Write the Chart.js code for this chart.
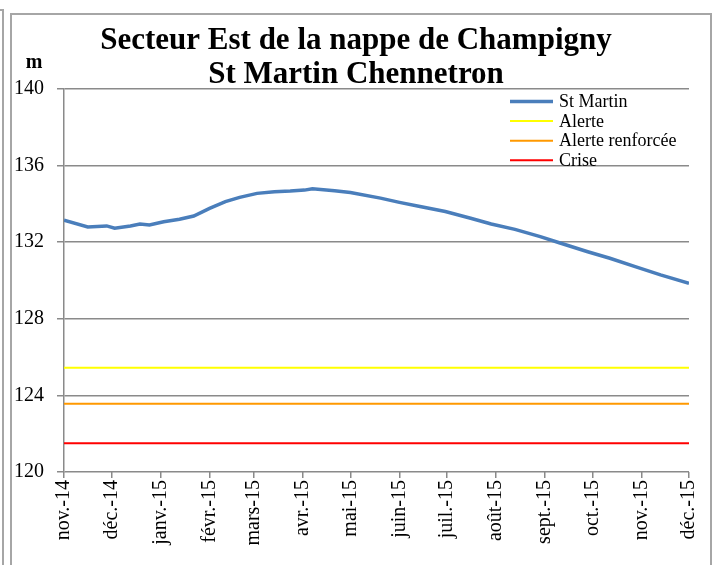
<!DOCTYPE html>
<html>
<head>
<meta charset="utf-8">
<script src="https://cdn.jsdelivr.net/npm/chart.js@4.4.1/dist/chart.umd.min.js"></script>
<style>
body{margin:0;background:#fff;overflow:hidden}
#wrap{position:relative;width:715px;height:565px}
#cv{position:absolute;left:0;top:0}
.frameA{position:absolute;left:-3px;top:9px;width:5px;height:600px;border-top:2px solid #a6a6a6;border-right:2px solid #a6a6a6}
.frameB{position:absolute;left:10px;top:13px;width:698px;height:600px;border:2px solid #a6a6a6}
</style>
</head>
<body>
<div id="wrap">
  <canvas id="cv" width="715" height="565"></canvas>
  <div class="frameA"></div>
  <div class="frameB"></div>
</div>
<script>
// month ticks: days counted from 1 Nov 2014
const monthDays = [0, 30, 61, 92, 120, 151, 181, 212, 242, 273, 304, 334, 365, 395];
const monthLabels = ["nov.-14", "déc.-14", "janv.-15", "févr.-15", "mars-15", "avr.-15", "mai-15",
                     "juin-15", "juil.-15", "août-15", "sept.-15", "oct.-15", "nov.-15", "déc.-15"];

// St Martin level (m)
const days = [0, 15, 27, 32, 42, 48, 54, 63, 73, 82, 92, 102, 111, 122, 133, 143, 152, 157, 171, 181,
              200, 212, 225, 241, 257, 270, 285, 301, 313, 331, 345, 361, 377, 395];
const levels = [133.15, 132.8, 132.85, 132.73, 132.85, 132.95, 132.9, 133.07, 133.2, 133.37, 133.77, 134.12,
                134.34, 134.55, 134.64, 134.67, 134.72, 134.79, 134.69, 134.6, 134.3, 134.08, 133.86, 133.6,
                133.25, 132.95, 132.67, 132.29, 131.97, 131.5, 131.16, 130.72, 130.29, 129.85];

// thresholds
const alerteLevel = 125.45;
const renforceeLevel = 123.57;
const criseLevel = 121.5;

const titleLines = ["Secteur Est de la nappe de Champigny", "St Martin Chennetron"];

const serif = "'Liberation Serif', 'Times New Roman', serif";
Chart.defaults.font.family = serif;
Chart.defaults.color = "#000";

const flat = (v) => [{x: monthDays[0], y: v}, {x: monthDays[monthDays.length - 1], y: v}];

const datasets = [
    {label: "St Martin", data: days.map((d, i) => ({x: d, y: levels[i]})), borderColor: "#4a7ebb", borderWidth: 3.5},
    {label: "Alerte", data: flat(alerteLevel), borderColor: "#ffff00", borderWidth: 2},
    {label: "Alerte renforcée", data: flat(renforceeLevel), borderColor: "#ff9900", borderWidth: 2},
    {label: "Crise", data: flat(criseLevel), borderColor: "#ff0000", borderWidth: 2}
];

const overlay = {
    id: "overlay",
    afterDraw(chart) {
        const ctx = chart.ctx;
        ctx.save();
        ctx.fillStyle = "#000";
        // title
        ctx.font = "bold 31px " + serif;
        ctx.textAlign = "center";
        ctx.textBaseline = "middle";
        titleLines.forEach((t, i) => ctx.fillText(t, 356, 41 + i * 34.4));
        // unit label
        ctx.font = "bold 20px " + serif;
        ctx.textBaseline = "alphabetic";
        ctx.fillText("m", 34, 68);
        // legend
        ctx.font = "18px " + serif;
        ctx.textAlign = "left";
        ctx.textBaseline = "middle";
        chart.data.datasets.forEach((ds, i) => {
            const y = 101.5 + i * 19.6;
            ctx.strokeStyle = ds.borderColor;
            ctx.lineWidth = ds.borderWidth;
            ctx.beginPath();
            ctx.moveTo(510, y);
            ctx.lineTo(553, y);
            ctx.stroke();
            ctx.fillText(ds.label, 559, y + 1);
        });
        ctx.restore();
    }
};

new Chart(document.getElementById("cv").getContext("2d"), {
    type: "line",
    data: {datasets: datasets},
    options: {
        responsive: false,
        animation: false,
        layout: {padding: {left: 0, right: 25, top: 89, bottom: 0}},
        elements: {point: {radius: 0}, line: {tension: 0}},
        plugins: {
            legend: {display: false},
            tooltip: {enabled: false},
            title: {display: false}
        },
        scales: {
            x: {
                type: "linear",
                min: monthDays[0],
                max: monthDays[monthDays.length - 1],
                afterBuildTicks: (s) => { s.ticks = monthDays.map(v => ({value: v})); },
                afterFit: (s) => { s.height = 93; },
                ticks: {
                    autoSkip: false,
                    minRotation: 90,
                    maxRotation: 90,
                    padding: 2,
                    font: {size: 20},
                    callback: (v) => monthLabels[monthDays.indexOf(v)]
                },
                grid: {drawOnChartArea: false, tickLength: 6, color: "#8a8a8a", lineWidth: 1.5},
                border: {display: false}
            },
            y: {
                min: 120,
                max: 140,
                afterFit: (s) => { s.width = 64; },
                ticks: {stepSize: 4, padding: 13, font: {size: 20}},
                grid: {tickLength: 7, color: "#8a8a8a", lineWidth: 1.5},
                border: {color: "#8a8a8a", width: 1.5}
            }
        }
    },
    plugins: [overlay]
});
</script>
</body>
</html>
